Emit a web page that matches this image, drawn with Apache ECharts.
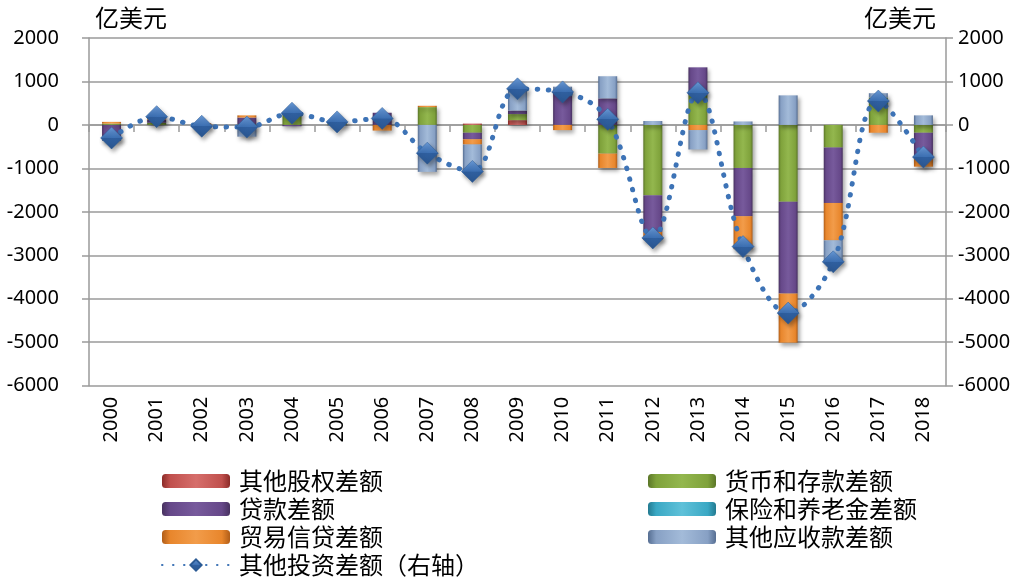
<!DOCTYPE html>
<html>
<head>
<meta charset="utf-8">
<script src="https://cdn.jsdelivr.net/npm/echarts@6/dist/echarts.min.js"></script>
<style>html,body{margin:0;padding:0;background:#fff;}#c{width:1027px;height:578px;}</style>
</head>
<body>
<div id="c"></div>
<script>
const years = ['2000','2001','2002','2003','2004','2005','2006','2007','2008','2009','2010','2011','2012','2013','2014','2015','2016','2017','2018'];
const equity    = [0,0,0,0,0,0,0,0,30,110,0,0,0,0,0,0,0,0,0];
const deposits  = [30,50,0,20,300,30,0,410,-180,140,0,-660,-1620,690,-990,-1770,-520,630,-180];
const loans     = [-260,70,0,150,-30,60,280,0,-150,80,800,610,-840,635,-1110,-2110,-1275,0,-590];
const insurance = [0,0,0,0,0,0,0,0,0,0,0,0,0,0,0,0,0,0,0];
const trade     = [40,70,40,50,0,0,-130,30,-120,0,-120,-330,-190,-120,-760,-1130,-860,-180,-190];
const otherRecv = [-110,0,-70,-270,0,-20,0,-1080,-650,500,80,510,90,-445,80,680,-495,100,220];
const otherInv  = [-300,190,-30,-50,270,70,150,-650,-1070,830,760,130,-2600,740,-2800,-4330,-3150,550,-740];
const yTicks = {min:-6000, max:2000, interval:1000};

const names = ['其他股权差额','货币和存款差额','贷款差额','保险和养老金差额','贸易信贷差额','其他应收款差额','其他投资差额（右轴）'];

function grad(dark, base, light){
  return {type:'linear', x:0, y:0, x2:1, y2:0, colorStops:[
    {offset:0, color:dark},{offset:0.12, color:base},{offset:0.5, color:light},{offset:0.88, color:base},{offset:1, color:dark}]};
}
const barColors = [
  grad('#8c2b28','#c0504d','#d66e6b'),
  grad('#5b7628','#7fa23b','#93b74e'),
  grad('#47315f','#664889','#775a9c'),
  grad('#237a90','#3aa8c4','#5fc1d9'),
  grad('#b05d18','#e8862c','#f29c4a'),
  grad('#566e92','#87a0c4','#a3bbd9')
];
const barData = [equity, deposits, loans, insurance, trade, otherRecv];

const series = barData.map((d,i)=>({
  name: names[i], type:'bar', stack:'total', data:d, barWidth:19,
  xAxisIndex:0, yAxisIndex:0,
  itemStyle:{color:barColors[i], shadowBlur:4, shadowColor:'rgba(0,0,0,0.35)', shadowOffsetX:2, shadowOffsetY:3},
  emphasis:{disabled:true}
}));
series.push({
  name: names[6], type:'line', data: otherInv, xAxisIndex:0, yAxisIndex:1,
  smooth:0.35, symbol:'diamond', symbolSize:22, z:5,
  lineStyle:{color:'#3d73b6', width:5, type:[0.5,10.5], cap:'round'},
  itemStyle:{color:{type:'linear',x:0,y:0,x2:0,y2:1,colorStops:[{offset:0,color:'#6a9ad6'},{offset:0.5,color:'#3c6fb2'},{offset:0.51,color:'#2f5f9f'},{offset:1,color:'#2a5690'}]},
    borderColor:'#2b5a94', borderWidth:0.5, shadowBlur:4, shadowColor:'rgba(0,0,0,0.35)', shadowOffsetX:2, shadowOffsetY:3},
  emphasis:{disabled:true}
});

const txt = {fontFamily:'"Noto Sans", "Noto Sans CJK SC", sans-serif', color:'#000'};
const cjk = {fontFamily:'"Noto Sans CJK SC", sans-serif', color:'#000', fontSize:24};
const gridCol = '#9a9a9a';
const plain = v => String(v);

const option = {
  animation:false,
  backgroundColor:'#fff',
  grid:{left:89, right:81, top:38, bottom:192.3, containLabel:false},
  legend:[
    {data:[names[0],names[2],names[4],names[6]], orient:'vertical', left:161, top:467, height:150, padding:0, itemWidth:68, itemHeight:14, itemGap:0,
     textStyle:Object.assign({}, cjk, {lineHeight:28, padding:[0,0,0,4]}), selectedMode:false},
    {data:[names[1],names[3],names[5]], orient:'vertical', left:648, top:467, height:150, padding:0, itemWidth:68, itemHeight:14, itemGap:0,
     textStyle:Object.assign({}, cjk, {lineHeight:28, padding:[0,0,0,4]}), selectedMode:false}
  ],
  graphic:[
    {type:'text', left:95, top:6, style:{text:'亿美元', font:'24px "Noto Sans CJK SC", sans-serif', fill:'#000'}},
    {type:'text', right:91, top:6, style:{text:'亿美元', font:'24px "Noto Sans CJK SC", sans-serif', fill:'#000'}}
  ],
  xAxis:[
    {type:'category', data:years, position:'bottom', boundaryGap:true,
     axisLine:{show:false, onZero:false}, axisTick:{show:false},
     axisLabel:Object.assign({}, txt, {fontSize:20, rotate:90, margin:11, interval:0})},
    {type:'category', data:years, position:'bottom', boundaryGap:true,
     axisLine:{show:true, onZero:true, lineStyle:{color:gridCol, width:1.5}},
     axisTick:{show:true, length:7, lineStyle:{color:gridCol, width:1.5}, interval:0},
     axisLabel:{show:false}}
  ],
  yAxis:[
    {type:'value', min:yTicks.min, max:yTicks.max, interval:yTicks.interval, position:'left',
     axisLine:{show:true, lineStyle:{color:gridCol, width:1.5}},
     axisTick:{show:true, length:7, lineStyle:{color:gridCol, width:1.5}},
     splitLine:{show:true, lineStyle:{color:gridCol, width:1.5}},
     axisLabel:Object.assign({}, txt, {fontSize:20, margin:30, formatter:plain})},
    {type:'value', min:yTicks.min, max:yTicks.max, interval:yTicks.interval, position:'right',
     axisLine:{show:true, lineStyle:{color:gridCol, width:1.5}},
     axisTick:{show:true, length:7, lineStyle:{color:gridCol, width:1.5}},
     splitLine:{show:false},
     axisLabel:Object.assign({}, txt, {fontSize:20, margin:12, formatter:plain})}
  ],
  series:series
};
const chart = echarts.init(document.getElementById('c'), null, {renderer:'canvas'});
chart.setOption(option);
</script>
</body>
</html>
